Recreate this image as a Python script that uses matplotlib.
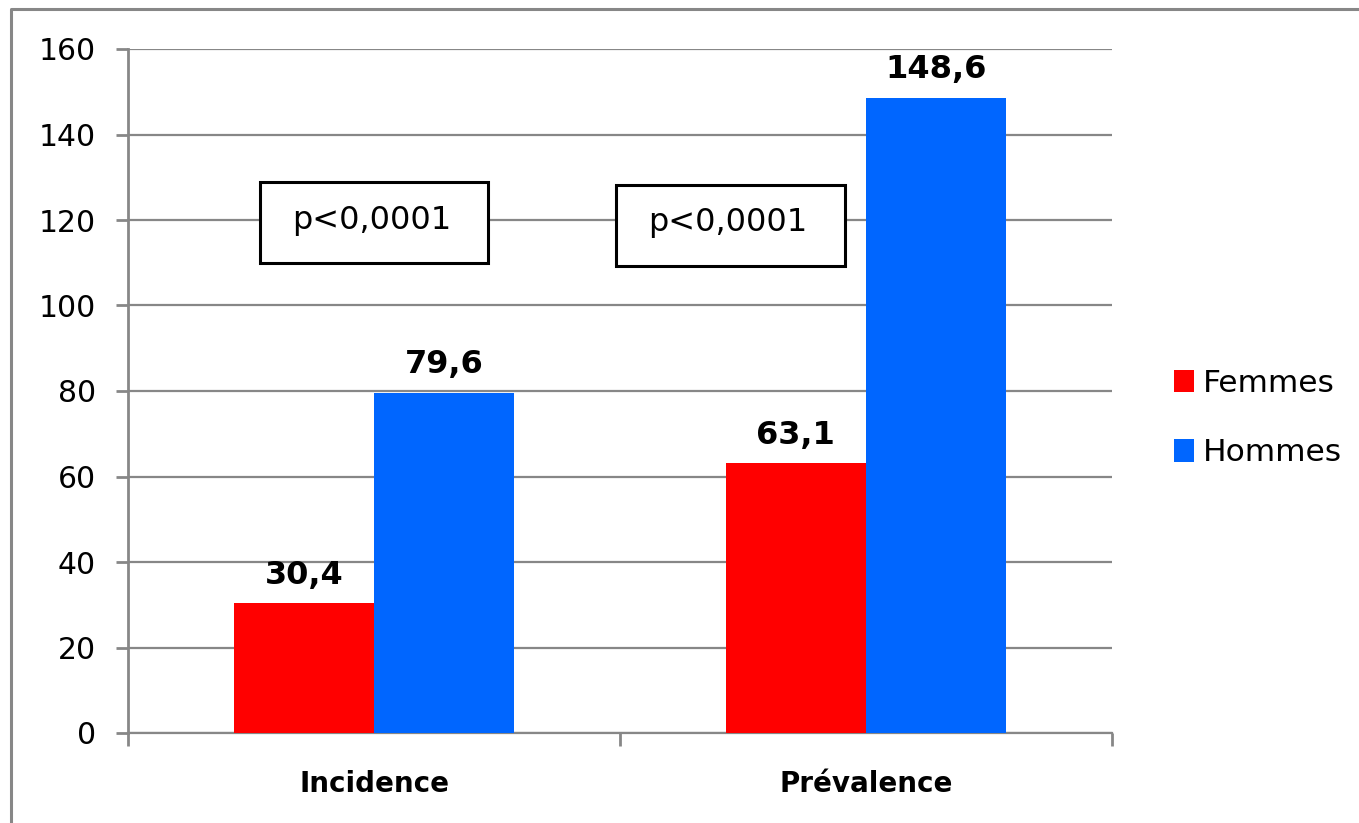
import matplotlib
matplotlib.use("Agg")
import matplotlib.pyplot as plt
from matplotlib.lines import Line2D
from matplotlib.patches import Rectangle

# Data
categories = ["Incidence", "Prévalence"]
series_names = ["Femmes", "Hommes"]
femmes = [30.4, 63.1]
hommes = [79.6, 148.6]
value_labels_f = ["30,4", "63,1"]
value_labels_h = ["79,6", "148,6"]
p_labels = ["p<0,0001", "p<0,0001"]
y_ticks = [0, 20, 40, 60, 80, 100, 120, 140, 160]

RED = "#FF0000"
BLUE = "#0066FF"
GRID = "#878787"

plt.rcParams["font.family"] = ["DejaVu Sans"]

W, H = 1359, 823
fig = plt.figure(figsize=(W / 100, H / 100), dpi=100)
ax = fig.add_axes([128 / W, 1 - 733 / H, (1112 - 128) / W, (733 - 49) / H])

x = list(range(len(categories)))
bw = 0.285
ax.bar([xi - bw for xi in x], femmes, width=bw, align="edge", color=RED,
       zorder=3, label=series_names[0])
ax.bar(x, hommes, width=bw, align="edge", color=BLUE,
       zorder=3, label=series_names[1])

# Value labels above each bar
for xi, v, s in zip(x, femmes, value_labels_f):
    ax.annotate(s, (xi - bw / 2, v), xytext=(0, 14), textcoords="offset points",
                ha="center", va="baseline", fontsize=23, fontweight="bold")
for xi, v, s in zip(x, hommes, value_labels_h):
    ax.annotate(s, (xi + bw / 2, v), xytext=(0, 14), textcoords="offset points",
                ha="center", va="baseline", fontsize=23, fontweight="bold")

# Significance boxes
box_w, box_h = 0.465, 19.0
box_centers = [(0.0, 119.5), (0.724, 118.8)]
for (cx, cy), s in zip(box_centers, p_labels):
    ax.add_patch(Rectangle((cx - box_w / 2, cy - box_h / 2), box_w, box_h,
                           facecolor="white", edgecolor="black", lw=2.2,
                           zorder=4))
    ax.text(cx - 0.005, cy + 0.5, s, ha="center", va="center", fontsize=23,
            zorder=5)

ax.set_xlim(-0.5, 1.5)
ax.set_ylim(0, 160)
ax.set_yticks(y_ticks)
ax.set_yticklabels([str(t) for t in y_ticks], fontsize=21.5)
ax.set_xticks(x)
ax.set_xticklabels(categories, fontsize=20, fontweight="bold")
ax.set_xticks([-0.5, 0.5, 1.5], minor=True)
ax.tick_params(axis="x", which="major", length=0, pad=27)
ax.tick_params(axis="x", which="minor", length=9, width=2, color=GRID,
               direction="out")
ax.tick_params(axis="y", length=9, width=2, color=GRID, pad=14)

ax.yaxis.grid(True, color=GRID, lw=1.6, zorder=0)
ax.set_axisbelow(True)
for side in ["top", "right"]:
    ax.spines[side].set_visible(False)
ax.spines["left"].set_color(GRID)
ax.spines["left"].set_linewidth(2)
ax.spines["bottom"].set_color(GRID)
ax.spines["bottom"].set_linewidth(1.6)

leg = ax.legend(loc="center left", bbox_to_anchor=(1174 / W, 1 - 418 / H),
                bbox_transform=fig.transFigure, frameon=False, fontsize=22.5,
                handlelength=0.64, handleheight=0.72, handletextpad=0.3,
                labelspacing=1.3, borderpad=0, borderaxespad=0)

# Outer frame (left and top edges)
fig.add_artist(Line2D([11 / W, 11 / W, 1358 / W], [0, 1 - 9 / H, 1 - 9 / H],
                      transform=fig.transFigure, color=GRID, lw=2.2))

fig.savefig("out.png", dpi=100, facecolor="white")
